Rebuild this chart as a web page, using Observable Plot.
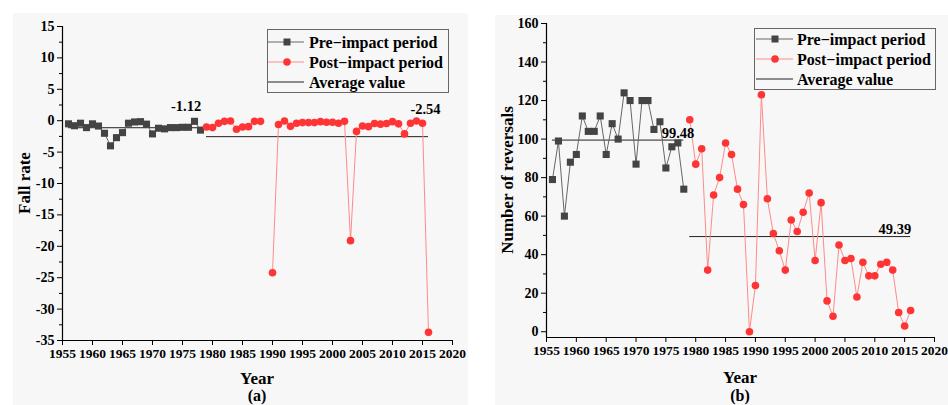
<!DOCTYPE html>
<html>
<head>
<meta charset="utf-8">
<script src="https://cdn.jsdelivr.net/npm/d3@7"></script>
<script src="https://cdn.jsdelivr.net/npm/@observablehq/plot@0.6"></script>
<style>
  body { margin:0; width:948px; height:405px; position:relative; background:#fff; overflow:hidden;
         font-family:"Liberation Serif","Times New Roman",serif; font-weight:bold; color:#000; }
  .panel { position:absolute; background:#f7f7f7; overflow:hidden; }
  .panel svg.plot { position:absolute; left:0; top:0; }
  .lbl { position:absolute; font-size:17px; line-height:1; white-space:nowrap; transform:translate(-50%,-50%); }
  .lbl.cap { font-size:16px; }
  .lbl.rot { transform:translate(-50%,-50%) rotate(-90deg); }
  .legend { position:absolute; }
</style>
</head>
<body>
<div class="panel" id="pa" style="left:13px;top:13px;width:455px;height:392px;"></div>
<div class="panel" id="pb" style="left:495px;top:15px;width:453px;height:390px;"></div>
<script>
// ---------- data ----------
const preYears = [1956,1957,1958,1959,1960,1961,1962,1963,1964,1965,1966,1967,1968,1969,1970,1971,1972,1973,1974,1975,1976,1977,1978];
const postYears = [1979,1980,1981,1982,1983,1984,1985,1986,1987,1988,1989,1990,1991,1992,1993,1994,1995,1996,1997,1998,1999,2000,2001,2002,2003,2004,2005,2006,2007,2008,2009,2010,2011,2012,2013,2014,2015,2016];

// (a) fall rate
const fallPre = [-0.5,-0.8,-0.4,-1.1,-0.5,-0.85,-2.0,-4.0,-2.7,-1.9,-0.4,-0.2,-0.15,-0.55,-2.1,-1.2,-1.3,-1.1,-1.1,-1.05,-1.05,-0.1,-1.5];
const fallPost = [-1.0,-1.1,-0.4,-0.1,-0.05,-1.35,-1.0,-0.95,-0.1,-0.1,null,-24.2,-0.6,-0.05,-0.9,-0.4,-0.3,-0.3,-0.3,-0.15,-0.25,-0.25,-0.4,-0.1,-19.1,-1.7,-0.85,-0.95,-0.45,-0.55,-0.45,-0.15,-0.5,-2.1,-0.4,-0.05,-0.4,-33.7];
const fallAvg = [-1.12, -2.54];

// (b) number of reversals
const revPre = [79,99,60,88,92,112,104,104,112,92,108,100,124,120,87,120,120,105,109,85,96,98,74];
const revPost = [110,87,95,32,71,80,98,92,74,66,0,24,123,69,51,42,32,58,52,62,72,37,67,16,8,45,37,38,18,36,29,29,35,36,32,10,3,11];
const revAvg = [99.48, 49.39];

const xTicks = [1955,1960,1965,1970,1975,1980,1985,1990,1995,2000,2005,2010,2015,2020];
const fallTicks = [-35,-30,-25,-20,-15,-10,-5,0,5,10,15];
const revTicks = [0,20,40,60,80,100,120,140,160];
const legendLabels = ["Pre\u2212impact period", "Post\u2212impact period", "Average value"];

// ---------- styles ----------
const PRE_LINE = "#666", PRE_FILL = "#444";
const POST_LINE = "#ff8a8a", POST_FILL = "#ff3535";
const AVG = "#222";

function rows(years, vals){ return years.map((year,i)=>({year, value: vals[i]})); }
function minor(ticks){ const s = ticks[1]-ticks[0]; return ticks.slice(0,-1).map(t=>t+s/2); }

function makePanel(cfg){
  const pre = rows(preYears, cfg.pre), post = rows(postYears, cfg.post);
  const preAvg = [{v: cfg.avg[0], x1: preYears[0], x2: preYears[preYears.length-1]}];
  const postAvg = [{v: cfg.avg[1], x1: postYears[0], x2: postYears[postYears.length-1]}];
  return Plot.plot({
    width: cfg.width, height: cfg.height,
    marginLeft: cfg.ml, marginRight: cfg.mr, marginTop: cfg.mt, marginBottom: cfg.mb,
    style: {background:"transparent", fontFamily:"Liberation Serif, serif", fontWeight:"bold", fontSize:"13.5px", color:"#000", overflow:"visible"},
    x: {domain:[1955,2020]},
    y: {domain: cfg.ydomain},
    marks: [
      Plot.axisX({ticks: xTicks, tickSize:5, tickPadding:3, tickFormat: d=>String(d), label:null, stroke:"#000", fontSize:13.5}),
      Plot.axisY({ticks: cfg.yticks, tickSize:5, tickPadding:3, tickFormat: d=>String(d), label:null, stroke:"#000", fontSize:14}),
      Plot.axisY({ticks: minor(cfg.yticks), tickSize:3, tickFormat: ()=>"", label:null, stroke:"#000"}),
      Plot.ruleX([1955], {y1: cfg.ydomain[0], y2: cfg.ydomain[1], stroke:"#000", strokeWidth:1.2}),
      Plot.ruleY([cfg.ydomain[0]], {x1:1955, x2:2020, stroke:"#000", strokeWidth:1.2}),
      Plot.ruleY(preAvg, {y:"v", x1:"x1", x2:"x2", stroke: AVG, strokeWidth:1}),
      Plot.ruleY(postAvg, {y:"v", x1:"x1", x2:"x2", stroke: AVG, strokeWidth:1}),
      Plot.line(pre, {x:"year", y:"value", stroke: PRE_LINE, strokeWidth:1}),
      Plot.line(post, {x:"year", y:"value", stroke: POST_LINE, strokeWidth:1}),
      Plot.dot(pre, {x:"year", y:"value", symbol:"square", r:4, fill: PRE_FILL, stroke:"none"}),
      Plot.dot(post, {x:"year", y:"value", r:3.8, fill: POST_FILL, stroke:"none"}),
      Plot.text(preAvg, {x: d => d.x2 + cfg.preLblDx, y:"v", dy: cfg.preLblDy, text: d=>d.v.toFixed(2), textAnchor: cfg.preAnchor, fontSize:14.5, fill:"#000"}),
      Plot.text(postAvg, {x: d => d.x2 + cfg.postLblDx, y:"v", dy: cfg.postLblDy, text: d=>d.v.toFixed(2), textAnchor: cfg.postAnchor, fontSize:14.5, fill:"#000"})
    ]
  });
}

function addLegend(panel, left, top, w, h, rowY, sx1, sx2, mx, tx){
  const svg = d3.select(panel).append("svg").attr("class","legend")
    .style("left", left+"px").style("top", top+"px")
    .attr("width", w+1).attr("height", h+1);
  svg.append("rect").attr("x",0.5).attr("y",0.5).attr("width",w).attr("height",h)
    .attr("fill","#f7f7f7").attr("stroke","#666").attr("stroke-width",1);
  const items = [
    {stroke: PRE_LINE, sym:"square"},
    {stroke: POST_LINE, sym:"circle"},
    {stroke: AVG, sym:null}
  ];
  items.forEach((it,i)=>{
    const y = rowY[i];
    svg.append("line").attr("x1",sx1).attr("x2",sx2).attr("y1",y).attr("y2",y).attr("stroke",it.stroke).attr("stroke-width",1);
    if (it.sym === "square") svg.append("rect").attr("x",mx-3.5).attr("y",y-3.5).attr("width",7).attr("height",7).attr("fill",PRE_FILL);
    if (it.sym === "circle") svg.append("circle").attr("cx",mx).attr("cy",y).attr("r",3.8).attr("fill",POST_FILL);
    svg.append("text").attr("x",tx).attr("y",y).attr("dy","0.35em")
      .style("font-family","Liberation Serif, serif").style("font-weight","bold").style("font-size","16px")
      .text(legendLabels[i]);
  });
}

function addLabel(panel, text, x, y, cls){
  const d = document.createElement("div");
  d.className = "lbl" + (cls ? " " + cls : "");
  d.style.left = x + "px"; d.style.top = y + "px";
  d.textContent = text;
  panel.appendChild(d);
}

// ---------- panel (a) ----------
const pa = document.getElementById("pa");
const plotA = makePanel({
  width:455, height:392, ml:49, mr:16, mt:13, mb:65,
  ydomain:[-35,15], yticks: fallTicks,
  pre: fallPre, post: fallPost, avg: fallAvg,
  preLblDx: -2.4, preLblDy: -21, preAnchor:"middle",
  postLblDx: -0.5, postLblDy: -27, postAnchor:"middle"
});
pa.appendChild(plotA);
addLegend(pa, 254, 16, 181, 63, [13,33,53], 1, 37, 20, 42);
addLabel(pa, "Fall rate", 11, 170, "rot");
addLabel(pa, "Year", 244, 365);
addLabel(pa, "(a)", 244, 383, "cap");

// ---------- panel (b) ----------
const pb = document.getElementById("pb");
const plotB = makePanel({
  width:453, height:390, ml:51, mr:14, mt:8, mb:68,
  ydomain:[-3,160], yticks: revTicks,
  pre: revPre, post: revPost, avg: revAvg,
  preLblDx: -3.7, preLblDy: -7, preAnchor:"start",
  postLblDx: 0.1, postLblDy: -7, postAnchor:"end"
});
pb.appendChild(plotB);
addLegend(pb, 259, 13, 181, 61, [11,31,51], 2, 39, 21, 43);
addLabel(pb, "Number of reversals", 12, 165, "rot");
addLabel(pb, "Year", 245, 362);
addLabel(pb, "(b)", 245, 381, "cap");
</script>
</body>
</html>
